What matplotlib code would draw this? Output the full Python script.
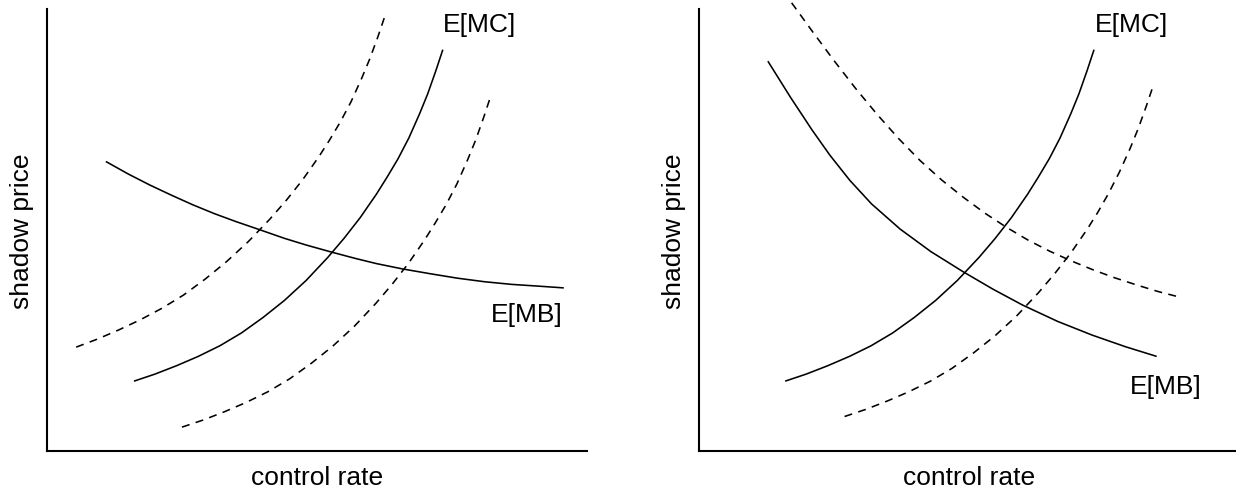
# -*- coding: utf-8 -*-

import matplotlib
matplotlib.use('Agg')
import matplotlib.pyplot as plt

plt.rcParams['font.family'] = ['Liberation Sans', 'DejaVu Sans']

FIG_SIZE = (12.36, 4.89)
DPI = 100
FONT_SIZE = 19
OUT_FILE = 'out.png'

#####################################################################################################
# Curves (control rate 0..100, shadow price 0..100)

# left panel - uncertain costs
left_mb_x = [10.9, 15.0, 19.0, 23.0, 27.0, 31.0, 35.0, 39.3, 44.0, 48.0, 52.4, 57.0, 61.0, 65.8, 71.0, 76.0, 81.0, 86.0, 91.0, 95.7]
left_mb_y = [65.5, 62.7, 60.2, 57.9, 55.7, 53.7, 51.9, 50.1, 48.1, 46.6, 45.1, 43.6, 42.4, 41.2, 40.1, 39.1, 38.3, 37.7, 37.3, 36.9]

left_mc_x = [16.1, 20.0, 24.0, 28.0, 32.0, 36.0, 40.0, 44.0, 48.0, 52.0, 55.0, 58.0, 61.0, 63.0, 65.0, 67.0, 69.0, 70.5, 72.0, 73.3]
left_mc_y = [15.8, 17.4, 19.3, 21.4, 23.8, 26.7, 30.2, 34.1, 38.6, 43.8, 48.1, 52.8, 58.1, 62.0, 66.1, 70.8, 76.3, 80.8, 86.0, 90.8]

left_mc_hi_x = [5.4, 9.3, 13.3, 17.3, 21.3, 25.3, 29.3, 33.3, 37.3, 41.3, 44.3, 47.3, 50.3, 52.3, 54.3, 56.3, 58.3, 59.8, 61.3, 62.6]
left_mc_hi_y = [23.5, 25.3, 27.4, 29.7, 32.3, 35.3, 38.9, 42.9, 47.4, 52.5, 56.7, 61.3, 66.5, 70.3, 74.4, 79.0, 84.4, 88.8, 93.8, 98.5]

left_mc_lo_x = [25.0, 28.9, 32.9, 36.9, 40.9, 44.9, 48.9, 52.9, 56.9, 60.9, 63.9, 66.9, 69.9, 71.9, 73.9, 75.9, 77.9, 79.4, 80.9, 82.2]
left_mc_lo_y = [5.4, 7.0, 8.9, 11.0, 13.4, 16.3, 19.8, 23.7, 28.2, 33.4, 37.7, 42.4, 47.7, 51.6, 55.7, 60.4, 65.9, 70.4, 75.6, 80.4]

# right panel - uncertain costs and benefits
right_mb_x = [12.8, 17.0, 21.0, 24.3, 28.0, 32.0, 37.3, 43.0, 48.9, 54.5, 60.0, 66.5, 72.9, 79.0, 84.8]
right_mb_y = [88.2, 80.0, 72.6, 66.9, 61.2, 55.9, 50.2, 45.1, 40.6, 36.6, 33.0, 29.3, 26.2, 23.6, 21.4]

right_mb_hi_x = [17.2, 21.0, 25.0, 29.0, 33.0, 37.0, 41.0, 45.0, 49.0, 53.0, 57.0, 61.0, 65.0, 69.0, 73.0, 77.0, 81.0, 85.0, 89.1]
right_mb_hi_y = [101.4, 95.0, 88.4, 82.1, 76.2, 70.7, 65.7, 61.3, 57.4, 53.8, 50.6, 47.7, 45.2, 43.0, 41.0, 39.2, 37.6, 36.1, 34.8]

right_mc_x = [16.0, 19.9, 23.9, 27.9, 31.9, 35.9, 39.9, 43.9, 47.9, 51.9, 54.9, 57.9, 60.9, 62.9, 64.9, 66.9, 68.9, 70.4, 71.9, 73.2]
right_mc_y = [15.8, 17.4, 19.3, 21.4, 23.8, 26.7, 30.2, 34.1, 38.6, 43.8, 48.1, 52.8, 58.1, 62.0, 66.1, 70.8, 76.3, 80.8, 86.0, 90.8]

right_mc_lo_x = [27.0, 30.9, 34.9, 38.9, 42.9, 46.9, 50.9, 54.9, 58.9, 62.9, 65.9, 68.9, 71.9, 73.9, 75.9, 77.9, 79.9, 81.4, 82.9, 84.2]
right_mc_lo_y = [7.8, 9.4, 11.3, 13.4, 15.8, 18.7, 22.2, 26.1, 30.6, 35.8, 40.1, 44.8, 50.1, 54.0, 58.3, 63.1, 68.5, 73.0, 78.1, 82.8]

# text labels
Y_LABEL = 'shadow price'
X_LABEL = 'control rate'
MC_LABEL = 'E[MC]'
MB_LABEL = 'E[MB]'

#####################################################################################################
# Drawing

SOLID = dict(color='black', lw=1.15, solid_capstyle='butt', clip_on=False)
DASHED = dict(color='black', lw=1.15, dashes=(5, 4), clip_on=False)


def format_ax(ax):
    ax.set_xlim(0, 100)
    ax.set_ylim(0, 100)
    ax.set_xticks([])
    ax.set_yticks([])
    for side in ['top', 'right']:
        ax.spines[side].set_visible(False)
    for side in ['left', 'bottom']:
        ax.spines[side].set_linewidth(1.5)
    ax.set_xlabel(X_LABEL, fontsize=FONT_SIZE)
    ax.set_ylabel(Y_LABEL, fontsize=FONT_SIZE)
    # label positions in axes fraction
    ax.xaxis.set_label_coords(0.5, -0.031)
    ax.yaxis.set_label_coords(-0.024, 0.5)


def draw_left(ax):
    ax.plot(left_mb_x, left_mb_y, **SOLID)
    ax.plot(left_mc_x, left_mc_y, **SOLID)
    ax.plot(left_mc_hi_x, left_mc_hi_y, **DASHED)
    ax.plot(left_mc_lo_x, left_mc_lo_y, **DASHED)
    ax.text(73.3, 96.6, MC_LABEL, fontsize=FONT_SIZE, ha='left', va='center')
    ax.text(95.4, 31.0, MB_LABEL, fontsize=FONT_SIZE, ha='right', va='center')
    format_ax(ax)


def draw_right(ax):
    ax.plot(right_mb_x, right_mb_y, **SOLID)
    ax.plot(right_mb_hi_x, right_mb_hi_y, **DASHED)
    ax.plot(right_mc_x, right_mc_y, **SOLID)
    ax.plot(right_mc_lo_x, right_mc_lo_y, **DASHED)
    ax.text(73.4, 96.6, MC_LABEL, fontsize=FONT_SIZE, ha='left', va='center')
    ax.text(93.1, 14.6, MB_LABEL, fontsize=FONT_SIZE, ha='right', va='center')
    format_ax(ax)


def write_plot():
    fig = plt.figure(figsize=FIG_SIZE, dpi=DPI)
    W, H = 1236.0, 489.0
    # axes rectangles in pixels: left, bottom spine, width, height
    ax1 = fig.add_axes([47 / W, (H - 452) / H, 540 / W, 442 / H])
    ax2 = fig.add_axes([698.75 / W, (H - 452) / H, 540 / W, 442 / H])
    draw_left(ax1)
    draw_right(ax2)
    fig.savefig(OUT_FILE, dpi=DPI)
    plt.close(fig)


if __name__ == "__main__":
    write_plot()
